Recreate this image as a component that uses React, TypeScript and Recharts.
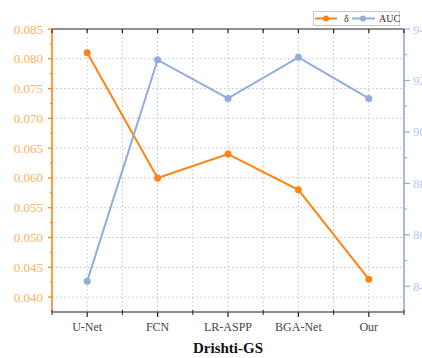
import { LineChart, Line, XAxis, YAxis, CartesianGrid, Label } from "recharts";

const categories = ["U-Net", "FCN", "LR-ASPP", "BGA-Net", "Our"];
const deltaValues = [0.081, 0.06, 0.064, 0.058, 0.043];
const aucValues = [84.2, 92.8, 91.3, 92.9, 91.3];
const deltaTicks = [0.04, 0.045, 0.05, 0.055, 0.06, 0.065, 0.07, 0.075, 0.08, 0.085];
const aucTicks = [84, 86, 88, 90, 92, 94];
const seriesNames = ["δ", "AUC"];

const ORANGE = "#FF8412";
const BLUE = "#93ACDE";
const FONT = "'Liberation Serif', serif";

const data = categories.map((name, i) => ({
  x: i,
  name,
  delta: deltaValues[i],
  auc: aucValues[i],
}));

// minor ticks sit halfway between the major ones
const xTicks = [-0.5, ...categories.flatMap((_, i) => [i, i + 0.5])];
const deltaAll = [...deltaTicks, ...deltaTicks.slice(0, -1).map((v) => v + 0.0025)].sort((a, b) => a - b);
const aucAll = [...aucTicks, ...aucTicks.slice(0, -1).map((v) => v + 1)].sort((a, b) => a - b);

const isMajorDelta = (v: number) => Math.abs(v * 200 - Math.round(v * 200)) < 1e-6;

const LeftTick = (props: any) => {
  const { x, y, payload } = props;
  const major = isMajorDelta(payload.value);
  return (
    <g>
      <line x1={x} x2={x - (major ? 4 : 2)} y1={y} y2={y} stroke={ORANGE} strokeWidth={1.2} />
      {major && (
        <text x={x - 9} y={y} dy={4.5} textAnchor="end" fill="#FFB25E" fontSize={13} fontFamily={FONT}>
          {payload.value.toFixed(3)}
        </text>
      )}
    </g>
  );
};

const RightTick = (props: any) => {
  const { x, y, payload } = props;
  const major = payload.value % 2 === 0;
  return (
    <g>
      <line x1={x} x2={x + (major ? 6 : 3)} y1={y} y2={y} stroke={BLUE} strokeWidth={1.2} />
      {major && (
        <text x={x + 9} y={y} dy={4.5} textAnchor="start" fill="#B7C8EA" fontSize={13} fontFamily={FONT}>
          {payload.value}
        </text>
      )}
    </g>
  );
};

const BottomTick = (props: any) => {
  const { x, y, payload } = props;
  const major = Number.isInteger(payload.value);
  return (
    <g>
      {major ? (
        <line x1={x} x2={x} y1={y} y2={y + 5} stroke="#222" strokeWidth={1.2} />
      ) : (
        <line x1={x} x2={x} y1={y - 2} y2={y + 3} stroke="#222" strokeWidth={1} />
      )}
      {major && (
        <text x={x} y={y + 19} textAnchor="middle" fill="#444" fontSize={12} fontFamily={FONT}>
          {categories[payload.value]}
        </text>
      )}
    </g>
  );
};

const TopTick = (props: any) => {
  const { x, y } = props;
  return <line x1={x} x2={x} y1={y} y2={y + 4} stroke="#222" strokeWidth={1.2} />;
};

function LegendBox() {
  return (
    <div
      style={{
        position: "absolute",
        left: 313,
        top: 11,
        width: 87,
        height: 15,
        border: "1px solid #c8c8c8",
        boxSizing: "border-box",
        background: "#fff",
      }}
    >
      <svg width={85} height={13} style={{ display: "block", overflow: "visible" }}>
        <line x1={1} x2={23} y1={6.5} y2={6.5} stroke={ORANGE} strokeWidth={2} />
        <circle cx={12} cy={6.5} r={3} fill={ORANGE} />
        <text x={30} y={10} fontSize={10} fontFamily={FONT} fill="#333">
          {seriesNames[0]}
        </text>
        <line x1={38} x2={61} y1={6.5} y2={6.5} stroke={BLUE} strokeWidth={2} />
        <circle cx={49} cy={6.5} r={3} fill={BLUE} />
        <text x={65} y={10} fontSize={10} fontFamily={FONT} fill="#333">
          {seriesNames[1]}
        </text>
      </svg>
    </div>
  );
}

export default function App() {
  return (
    <div style={{ position: "absolute", left: 0, top: 0, width: 422, height: 358, background: "#fff" }}>
      <LineChart width={422} height={358} data={data} margin={{ top: 0, right: 0, bottom: 0, left: 0 }}>
        <CartesianGrid
          xAxisId="bottom"
          yAxisId="left"
          stroke="#cfcfcf"
          strokeDasharray="2 2"
          verticalValues={xTicks.filter((v) => v > -0.5)}
          horizontalValues={deltaTicks.slice(0, -1)}
        />
        <XAxis
          xAxisId="top"
          orientation="top"
          type="number"
          dataKey="x"
          domain={[-0.5, 4.5]}
          ticks={xTicks}
          interval={0}
          height={29}
          tickSize={0}
          tickMargin={0}
          tick={<TopTick />}
          axisLine={{ stroke: "#222", strokeWidth: 1.2 }}
        />
        <XAxis
          xAxisId="bottom"
          orientation="bottom"
          type="number"
          dataKey="x"
          domain={[-0.5, 4.5]}
          ticks={xTicks}
          interval={0}
          height={46}
          tickSize={0}
          tickMargin={0}
          tick={<BottomTick />}
          axisLine={{ stroke: "#222", strokeWidth: 1.2 }}
        >
          <Label
            value="Drishti-GS"
            position="insideBottom"
            offset={5}
            style={{ fontFamily: FONT, fontWeight: "bold", fontSize: 15, fill: "#111" }}
          />
        </XAxis>
        <YAxis
          yAxisId="left"
          orientation="left"
          type="number"
          domain={[0.0375, 0.085]}
          ticks={deltaAll}
          interval={0}
          width={52}
          tickSize={0}
          tickMargin={0}
          tick={<LeftTick />}
          axisLine={{ stroke: ORANGE, strokeWidth: 1.6 }}
        />
        <YAxis
          yAxisId="right"
          orientation="right"
          type="number"
          domain={[83, 94]}
          ticks={aucAll}
          interval={0}
          width={18}
          tickSize={0}
          tickMargin={0}
          tick={<RightTick />}
          axisLine={{ stroke: BLUE, strokeWidth: 1.6 }}
        />
        <Line
          xAxisId="bottom"
          yAxisId="left"
          dataKey="delta"
          name={seriesNames[0]}
          stroke={ORANGE}
          strokeWidth={2}
          dot={{ r: 3.5, fill: ORANGE, stroke: ORANGE, strokeWidth: 0 }}
          isAnimationActive={false}
        />
        <Line
          xAxisId="bottom"
          yAxisId="right"
          dataKey="auc"
          name={seriesNames[1]}
          stroke={BLUE}
          strokeWidth={2}
          dot={{ r: 3.5, fill: BLUE, stroke: BLUE, strokeWidth: 0 }}
          isAnimationActive={false}
        />
      </LineChart>
      <LegendBox />
    </div>
  );
}
